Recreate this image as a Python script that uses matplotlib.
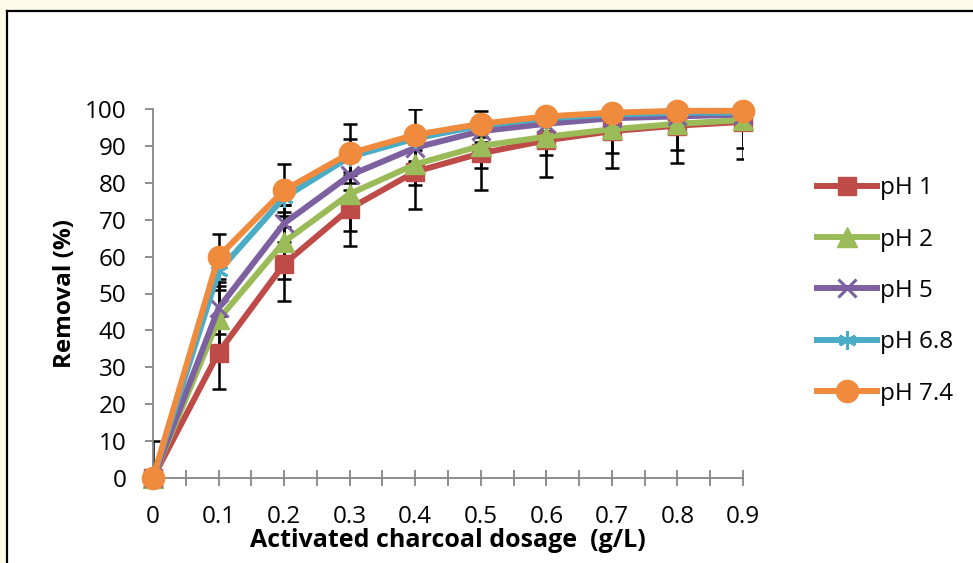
import numpy as np
import matplotlib
matplotlib.use('Agg')
import matplotlib.pyplot as plt
from matplotlib.ticker import MultipleLocator

plt.rcParams['font.family'] = ['Open Sans', 'DejaVu Sans']

dosage = [0, 0.1, 0.2, 0.3, 0.4, 0.5, 0.6, 0.7, 0.8, 0.9]
labels = ['pH 1', 'pH 2', 'pH 5', 'pH 6.8', 'pH 7.4']

ph1 = [0, 34, 58, 73, 83, 88, 91.5, 94, 95.5, 96.5]
ph2 = [0, 43, 64, 77, 85, 90, 92.5, 94.5, 96, 97]
ph5 = [0, 46, 69, 82, 89.5, 94, 96, 97.5, 98, 98.5]
ph68 = [0, 56, 76, 87, 92, 95.5, 97.5, 98.5, 99, 99]
ph74 = [0, 60, 78, 88, 93, 96, 98, 99, 99.5, 99.5]

err1 = [10, 10, 10, 10, 10, 10, 10, 10, 10, 10]
err2 = [0, 9, 10, 10, 5.5, 6, 5, 6.5, 7, 7.5]
err5 = [0, 7, 5, 4, 4, 3, 2, 2, 1.5, 1.5]
err68 = [0, 5, 4, 5, 3, 2, 1.5, 1, 1, 1]
err74 = [0, 6, 7, 8, 7, 3.5, 2, 1, 0.5, 0.5]

series = [ph1, ph2, ph5, ph68, ph74]
errs = [err1, err2, err5, err68, err74]
colors = ['#BE4B48', '#9BBB59', '#7D60A0', '#4BACC6', '#F08A3C']
markers = ['s', '^', 'x', (6, 2, 0), 'o']
msizes = [13, 14, 13, 13, 16]

fig = plt.figure(figsize=(9.73, 5.63), dpi=100)
fig.patch.set_facecolor('white')
# cream strip and black frame round the chart
fig.add_artist(plt.Rectangle((0, 1 - 11 / 563), 1, 11 / 563, transform=fig.transFigure,
                             color='#FEFBE8', lw=0))
fig.add_artist(plt.Rectangle((0, 0), 6 / 973, 1, transform=fig.transFigure,
                             color='#FEFBE8', lw=0))
fig.add_artist(plt.Line2D([7 / 973, 7 / 973], [0, 1 - 11 / 563], transform=fig.transFigure,
                          color='black', lw=1.6))
fig.add_artist(plt.Line2D([7 / 973, 1], [1 - 11 / 563, 1 - 11 / 563], transform=fig.transFigure,
                          color='black', lw=1.6))

ax = fig.add_axes([153 / 973, 85 / 563, 590 / 973, 369 / 563])

for i in range(5):
    ax.errorbar(dosage, series[i], yerr=errs[i], fmt='none', ecolor='black',
                elinewidth=1.8, capsize=5, capthick=1.8, zorder=2)

for i in range(5):
    mew = 2.2 if i in (2, 3) else 1
    ax.plot(dosage, series[i], color=colors[i], lw=4.3, marker=markers[i],
            markersize=msizes[i], markeredgewidth=mew, markeredgecolor=colors[i],
            label=labels[i], clip_on=False, zorder=3 + i)

ax.set_xlim(0, 0.9)
ax.set_ylim(0, 100)
ax.set_xticks(dosage)
ax.set_xticklabels(['0'] + ['%.1f' % v for v in dosage[1:]])
ax.xaxis.set_minor_locator(MultipleLocator(0.05))
ax.yaxis.set_major_locator(MultipleLocator(10))

for s in ['top', 'right']:
    ax.spines[s].set_visible(False)
for s in ['left', 'bottom']:
    ax.spines[s].set_color('#868686')
    ax.spines[s].set_linewidth(1.3)

ax.tick_params(axis='y', direction='out', length=6, width=1.3, color='#868686',
               labelsize=17.5, pad=13)
ax.tick_params(axis='x', which='both', direction='inout', length=11, width=1.3,
               color='#868686', labelsize=17.5, pad=14)

ax.set_xlabel('Activated charcoal dosage  (g/L)', fontsize=18, fontweight='bold', labelpad=-1)
ax.set_ylabel('Removal (%)', fontsize=17.5, fontweight='bold', labelpad=6)

leg = ax.legend(loc='center left', bbox_to_anchor=(807 / 973, 1 - 291 / 563),
                bbox_transform=fig.transFigure, frameon=False, fontsize=17.5,
                handlelength=2.5, handletextpad=0.1, labelspacing=1.13, borderaxespad=0)

fig.savefig('out.png', dpi=100)
